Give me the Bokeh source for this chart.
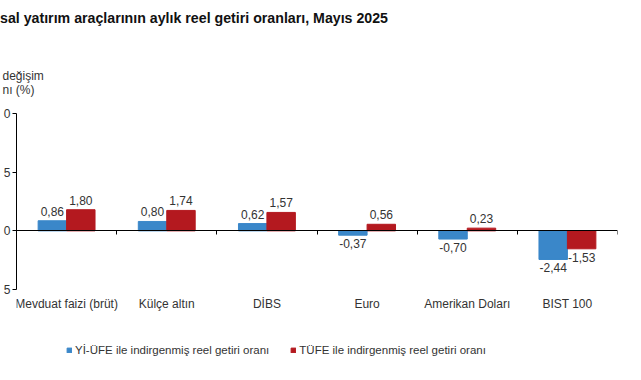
from bokeh.plotting import figure
from bokeh.layouts import column
from bokeh.models import (Range1d, LinearAxis, FixedTicker, Title, Legend, LegendItem,
                          ColumnDataSource, Div)
from bokeh.core.properties import value
from bokeh.embed import file_html
from bokeh.resources import INLINE

categories = ["Mevduat faizi (brüt)", "Külçe altın", "DİBS", "Euro", "Amerikan Doları", "BIST 100"]
yi_ufe = [0.86, 0.80, 0.62, -0.37, -0.70, -2.44]
tufe = [1.80, 1.74, 1.57, 0.56, 0.23, -1.53]
y_ticks = [-5, 0, 5, 10]
y_tick_labels = ["5", "0", "5", "0"]   # only the right-hand digits are visible in the cropped reference
series_names = ["Yİ-ÜFE ile indirgenmiş reel getiri oranı", "TÜFE ile indirgenmiş reel getiri oranı"]
title_text = "sal yatırım araçlarının aylık reel getiri oranları, Mayıs 2025"
ytitle_text = " değişim\nnı (%)"

BLUE = "#3A87C9"
RED = "#B4191F"
FONT = "Liberation Sans"
TXT = "#333333"

n = len(categories)
bw = 0.284
centers = [i + 0.5 for i in range(n)]
Y_MIN, Y_MAX = -5, 10
Y_FRAME_MIN = -12.07   # frame extended below the value area to hold labels and legend

TITLE_H = 36
head = Div(text=title_text, width=641, height=TITLE_H, margin=0,
           styles={"font-family": FONT, "font-size": "14.2px", "font-weight": "bold",
                   "line-height": f"{TITLE_H}px", "color": "#111111", "white-space": "nowrap"})

p = figure(width=641, height=380 - TITLE_H, output_backend="svg", toolbar_location=None,
           x_range=Range1d(0, n), y_range=Range1d(Y_FRAME_MIN, Y_MAX),
           min_border_left=14, min_border_right=24, min_border_top=113 - TITLE_H,
           min_border_bottom=8, x_axis_location=None, y_axis_location=None, margin=0)
p.outline_line_color = None
p.grid.visible = False
p.background_fill_color = "white"

def fmt(v):
    return f"{v:.2f}".replace(".", ",")

renderers = []
for k, (vals, col, sgn) in enumerate([(yi_ufe, BLUE, -1), (tufe, RED, 1)]):
    xs = [c + sgn * bw / 2 for c in centers]
    src = ColumnDataSource(dict(
        x=xs, top=vals, lab=[fmt(v) for v in vals],
        base=["bottom" if v >= 0 else "top" for v in vals],
        off=[-5 if v >= 0 else 4 for v in vals]))
    r = p.vbar(x="x", top="top", bottom=0, width=bw, source=src,
               fill_color=col, line_color=col, line_width=1)
    renderers.append(r)
    p.text(x="x", y="top", text="lab", source=src, text_align="center",
           text_baseline="base", y_offset="off", text_font_size="12px",
           text_color=TXT, text_font=value(FONT))

# category labels under the value area
cat_src = ColumnDataSource(dict(x=centers, y=[Y_MIN] * n, t=categories))
p.text(x="x", y="y", text="t", source=cat_src, text_align="center", text_baseline="top",
       y_offset=7, text_font_size="12px", text_color=TXT, text_font=value(FONT))

# y axis
yax = LinearAxis(ticker=FixedTicker(ticks=y_ticks), bounds=(Y_MIN, Y_MAX),
                 major_label_overrides={t: s for t, s in zip(y_ticks, y_tick_labels)})
yax.major_label_text_font_size = "12px"
yax.major_label_text_font = FONT
yax.major_label_text_color = TXT
yax.major_label_standoff = 2
yax.major_tick_out = 4
yax.major_tick_in = 0
yax.minor_tick_line_color = None
yax.axis_line_color = "black"
yax.major_tick_line_color = "black"
p.add_layout(yax, "left")

# zero line with ticks at category boundaries
zax = LinearAxis(fixed_location=0, ticker=FixedTicker(ticks=[i + 1 for i in range(n)]),
                 major_label_overrides={i + 1: "" for i in range(n)})
zax.major_label_standoff = 0
zax.major_tick_out = 4
zax.major_tick_in = 0
zax.minor_tick_line_color = None
zax.axis_line_color = "black"
zax.major_tick_line_color = "black"
p.add_layout(zax, "below")

# y-axis title above the frame
p.add_layout(Title(text=ytitle_text, align="left", offset=-14, standoff=34,
                   text_font=FONT, text_font_size="12px", text_font_style="normal",
                   text_color=TXT), "above")

legend = Legend(items=[LegendItem(label=series_names[i], renderers=[renderers[i]]) for i in range(2)],
                orientation="horizontal", location=(50, 16))
legend.label_text_font = FONT
legend.label_text_font_size = "11.5px"
legend.label_text_color = TXT
legend.glyph_width = 6
legend.glyph_height = 6
legend.label_standoff = 3
legend.spacing = 21
legend.padding = 0
legend.margin = 0
legend.border_line_color = None
legend.background_fill_alpha = 0
p.add_layout(legend, "center")

layout = column(head, p, spacing=0, margin=0)
open("out.html", "w").write(file_html(layout, INLINE))
